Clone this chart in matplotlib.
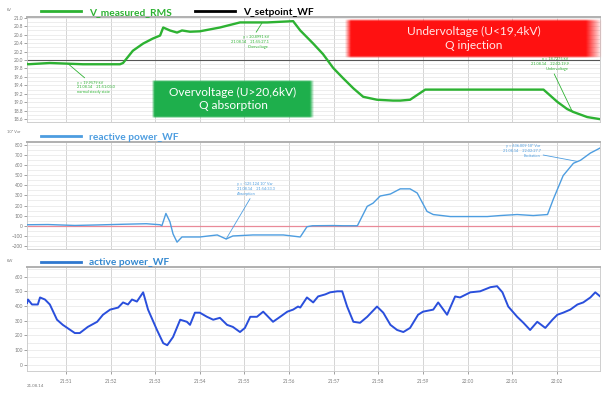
import numpy as np
import matplotlib
matplotlib.use("Agg")
import matplotlib.pyplot as plt
from matplotlib.ticker import MultipleLocator, FixedLocator, FormatStrFormatter

plt.rcParams["font.family"] = ["Lato", "DejaVu Sans"]

# time axis: minutes after 21:50 on 21.08.14
T_START, T_END = 0.13, 12.97
TICK_MIN = list(range(1, 14))
TICK_LAB = ["21:51", "21:52", "21:53", "21:54", "21:55", "21:56", "21:57",
            "21:58", "21:59", "22:00", "22:01", "22:02", "22:03"]

# V_measured_RMS [kV]
v_t = [0.13, 0.15, 0.64, 1.38, 2.21, 2.28, 2.50, 2.73, 2.95, 3.11, 3.18, 3.33, 3.49,
       3.60, 3.78, 4.00, 4.45, 4.90, 5.51, 6.09, 6.25, 6.54, 6.76, 6.99, 7.21, 7.44,
       7.66, 7.97, 8.33, 8.49, 8.71, 9.05, 9.61, 10.73, 11.70, 12.01, 12.23, 12.37,
       12.68, 12.97]
v_meas = [19.91, 19.90, 19.93, 19.90, 19.90, 19.93, 20.22, 20.39, 20.51, 20.58, 20.77,
          20.70, 20.65, 20.70, 20.67, 20.68, 20.77, 20.89, 20.89, 20.92, 20.70, 20.39,
          20.14, 19.81, 19.57, 19.33, 19.13, 19.06, 19.04, 19.04, 19.06, 19.30, 19.30,
          19.30, 19.30, 19.01, 18.84, 18.77, 18.65, 18.60]
v_setpoint = 20.0

# reactive power_WF [10^3 Var]
q_t = [0.13, 0.60, 1.20, 1.70, 2.30, 2.80, 3.11, 3.15, 3.24, 3.33, 3.40, 3.49, 3.60,
       4.00, 4.39, 4.59, 4.74, 5.19, 5.87, 6.25, 6.40, 6.52, 6.99, 7.21, 7.53, 7.75,
       7.88, 8.04, 8.27, 8.49, 8.71, 8.87, 9.09, 9.23, 9.61, 9.99, 10.44, 10.73,
       11.11, 11.47, 11.79, 11.92, 12.14, 12.37, 12.53, 12.75, 12.93, 12.97]
q_wf = [10, 12, 3, 8, 15, 20, 10, 0, 122, 40, -81, -162, -111, -111, -91, -131, -101,
        -91, -91, -111, -10, 0, 2, 0, 0, 192, 223, 294, 314, 365, 365, 324, 142, 111,
        91, 91, 91, 101, 111, 101, 111, 263, 496, 618, 648, 719, 760, 770]

# active power_WF [kW]
p_t = [0.13, 0.15, 0.24, 0.37, 0.42, 0.53, 0.64, 0.80, 0.93, 1.20, 1.31, 1.49, 1.70,
       1.83, 1.99, 2.17, 2.28, 2.39, 2.48, 2.59, 2.73, 2.84, 3.04, 3.18, 3.27, 3.40,
       3.56, 3.71, 3.78, 3.89, 4.00, 4.16, 4.30, 4.45, 4.61, 4.74, 4.90, 5.01, 5.13,
       5.28, 5.42, 5.64, 5.80, 5.96, 6.09, 6.20, 6.25, 6.40, 6.54, 6.65, 6.81, 6.92,
       7.08, 7.19, 7.30, 7.44, 7.59, 7.75, 7.97, 8.11, 8.27, 8.42, 8.56, 8.71, 8.89,
       9.00, 9.23, 9.34, 9.54, 9.72, 9.83, 10.06, 10.28, 10.51, 10.66, 10.78, 10.91,
       11.11, 11.25, 11.40, 11.56, 11.74, 11.90, 12.01, 12.14, 12.30, 12.46, 12.59,
       12.75, 12.86, 12.97]
p_wf = [420, 444, 410, 410, 458, 444, 410, 306, 271, 215, 215, 257, 292, 340, 375, 389,
        424, 410, 444, 430, 493, 375, 236, 146, 132, 188, 306, 292, 271, 354, 354, 326,
        306, 319, 271, 257, 222, 250, 326, 326, 361, 292, 326, 361, 375, 396, 389, 458,
        424, 465, 479, 493, 500, 500, 396, 292, 285, 326, 396, 354, 271, 236, 222, 250,
        340, 361, 375, 424, 340, 465, 458, 493, 500, 528, 535, 493, 396, 326, 285, 236,
        292, 250, 306, 340, 354, 375, 410, 424, 458, 493, 465]

GREEN = "#2db232"
QBLUE = "#4d9de0"
PBLUE = "#2a4fdc"
GRID = "#d4d4d4"
TICKC = "#7a7a7a"


def style(ax, ylo, yhi, major, minor, show_x=False):
    ax.set_xlim(T_START, T_END)
    ax.set_ylim(ylo, yhi)
    ax.xaxis.set_major_locator(FixedLocator(TICK_MIN))
    ax.yaxis.set_major_locator(MultipleLocator(major))
    ax.yaxis.set_minor_locator(MultipleLocator(minor))
    ax.grid(axis="x", which="major", color=GRID, lw=0.7)
    ax.grid(axis="y", which="both", color="#e6e6e6", lw=0.5)
    ax.tick_params(axis="y", which="major", labelsize=3.4, colors=TICKC, length=2, width=0.5, pad=1)
    ax.tick_params(axis="y", which="minor", length=0)
    ax.tick_params(axis="x", length=2, width=0.5, colors=TICKC, labelsize=3.4, pad=4)
    if show_x:
        ax.set_xticklabels(TICK_LAB)
    else:
        ax.tick_params(axis="x", labelbottom=False, length=0)
    for s in ax.spines.values():
        s.set_color("#c8c8c8"); s.set_linewidth(0.6)
    ax.spines["top"].set_color("#b0b0b0"); ax.spines["top"].set_linewidth(1.4)


def legend(ax, spacing=2.4):
    leg = ax.legend(loc="lower left", bbox_to_anchor=(0.023, 0.99), ncol=2, frameon=False,
                    handlelength=3.9, handletextpad=0.8, columnspacing=spacing, borderaxespad=0,
                    borderpad=0.1, prop={"weight": "bold", "size": 7.3}, labelcolor="linecolor")
    for ln in leg.get_lines():
        ln.set_linewidth(2.0)
    return leg


def note(ax, text, xy, xytext, color, ha="left"):
    ax.annotate(text, xy=xy, xytext=xytext, fontsize=2.8, color=color, ha=ha, va="center",
                linespacing=1.3, arrowprops=dict(arrowstyle="-", color=color, lw=0.6,
                                                 shrinkA=0, shrinkB=0))


fig = plt.figure(figsize=(6.02, 3.94), dpi=100)
fig.patch.set_facecolor("white")
axV = fig.add_axes([0.045, 0.690, 0.952, 0.267])
axQ = fig.add_axes([0.045, 0.368, 0.952, 0.272])
axP = fig.add_axes([0.045, 0.058, 0.952, 0.264])

# voltage
axV.plot(v_t, v_meas, color=GREEN, lw=1.7, label="V_measured_RMS", zorder=3)
sp = axV.axhline(v_setpoint, color="black", lw=0.8, label="V_setpoint_WF", zorder=2)
style(axV, 18.53, 21.02, 0.2, 0.1)
axV.yaxis.set_major_formatter(FormatStrFormatter("%.1f"))
legend(axV, spacing=2.3)
sp.set_color("#555555")
note(axV, "y = 19.9579 kV\n21.08.14    21:51:03.0\nnormal steady state",
     (1.05, 19.91), (1.25, 19.35), GREEN)
note(axV, "y = 20.8991 kV\n21.08.14    21:55:27.1\nOvervoltage",
     (5.40, 20.89), (5.55, 20.43), GREEN, ha="right")
note(axV, "y = 18.7275 kV\n21.08.14    22:02:19.9\nUndervoltage",
     (12.35, 18.77), (12.26, 19.90), GREEN, ha="right")

# reactive power
axQ.axhline(0, color="#e98a98", lw=0.9, zorder=2)
axQ.plot(q_t, q_wf, color=QBLUE, lw=1.0, label="reactive power_WF", zorder=3)
style(axQ, -230, 830, 100, 50)
legend(axQ)
note(axQ, "y = -125.124 10³ Var\n21.08.14    21:54:33.3\nAbsorption",
     (4.59, -131), (4.83, 364), QBLUE)
note(axQ, "y = 636.009 10³ Var\n21.08.14    22:02:27.7\nExcitation",
     (12.46, 636), (11.63, 740), QBLUE, ha="right")

# active power
axP.plot(p_t, p_wf, color=PBLUE, lw=1.4, label="active power_WF", zorder=3)
style(axP, -45, 665, 100, 50, show_x=True)
legP = legend(axP)
legP.get_texts()[0].set_color("#3388d0")
legP.get_lines()[0].set_color("#2f78cf")

# units and date
fig.text(0.012, 0.972, "kV", fontsize=3, color=TICKC)
fig.text(0.012, 0.663, "10³ Var", fontsize=3, color=TICKC)
fig.text(0.012, 0.335, "kW", fontsize=3, color=TICKC)
fig.text(0.045, 0.018, "21.08.14", fontsize=3.2, color=TICKC)

# colored callout boxes drawn in pixel space
ov = fig.add_axes([0, 0, 1, 1])
ov.set_xlim(0, 602); ov.set_ylim(394, 0); ov.axis("off"); ov.patch.set_alpha(0)


def fade_box(x0, x1, y0, y1, rgb, fx_l, fx_r, fy):
    w, h = int(x1 - x0) * 2, int(y1 - y0) * 2
    xs = (np.arange(w) + 0.5) / 2
    ys = (np.arange(h) + 0.5) / 2
    W, H = w / 2, h / 2
    ax_ = np.clip(np.minimum(xs / fx_l, (W - xs) / fx_r), 0, 1)
    ay_ = np.clip(np.minimum(ys, H - ys) / fy, 0, 1)
    img = np.zeros((h, w, 4))
    img[..., :3] = rgb
    img[..., 3] = np.outer(ay_, ax_)
    ov.imshow(img, extent=(x0, x1, y1, y0), aspect="auto", interpolation="bilinear")


fade_box(152, 314, 80, 118, (0.12, 0.69, 0.30), 2.5, 4, 1.5)
ov.text(233, 99, "Overvoltage (U>20,6kV)\nQ absorption", color="white", fontsize=8.6,
        ha="center", va="center", linespacing=1.25)
fade_box(345, 602, 19, 58, (1.0, 0.07, 0.07), 6, 16, 2)
ov.text(474, 38.5, "Undervoltage (U<19,4kV)\nQ injection", color="#ffe8e8", fontsize=8.6,
        ha="center", va="center", linespacing=1.25)
ov.set_xlim(0, 602); ov.set_ylim(394, 0)

fig.savefig("out.png", dpi=100)
